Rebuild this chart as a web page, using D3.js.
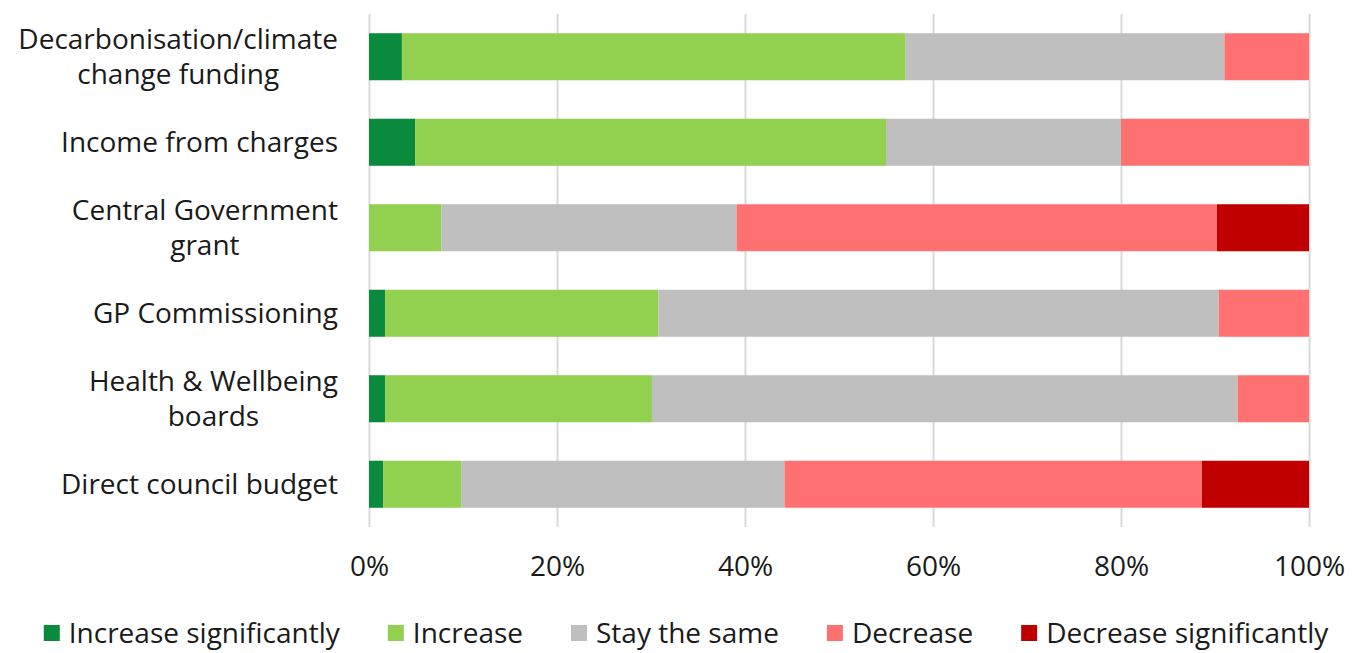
<!DOCTYPE html>
<html>
<head>
<meta charset="utf-8">
<script src="https://cdn.jsdelivr.net/npm/d3@7"></script>
<style>
  body { margin: 0; background: #fff; }
  text { font-family: "Open Sans", "Lato", sans-serif; fill: #1a1a1a; }
</style>
</head>
<body>
<div class="chart"></div>
<script>
/* categories, top to bottom */
const categories = [
  ["Decarbonisation/climate", "change funding"],
  ["Income from charges"],
  ["Central Government", "grant"],
  ["GP Commissioning"],
  ["Health & Wellbeing", "boards"],
  ["Direct council budget"]
];

/* series names and colours */
const seriesNames = ["Increase significantly", "Increase", "Stay the same", "Decrease", "Decrease significantly"];
const seriesColors = ["#0a8a3c", "#92d050", "#bfbfbf", "#ff7171", "#c00000"];

/* percentages per series, same order as categories */
const increaseSig = [3.5, 4.9, 0, 1.7, 1.7, 1.5];
const increase    = [53.6, 50.1, 7.7, 29.1, 28.4, 8.3];
const staySame    = [33.9, 25.0, 31.4, 59.6, 62.3, 34.4];
const decrease    = [9.0, 20.0, 51.1, 9.6, 7.6, 44.4];
const decreaseSig = [0, 0, 9.8, 0, 0, 11.4];

/* x axis tick values */
const tickValues = [0, 20, 40, 60, 80, 100];

/* build table for d3.stack */
const rows = categories.map((c, i) => ({
  key: c.join(" "),
  lines: c,
  "Increase significantly": increaseSig[i],
  "Increase": increase[i],
  "Stay the same": staySame[i],
  "Decrease": decrease[i],
  "Decrease significantly": decreaseSig[i]
}));

const W = 1362, H = 653;
const plot = {left: 369, right: 1309, top: 14, bottom: 527};
const fontSize = 28;

const svg = d3.select(".chart").append("svg")
  .attr("width", W)
  .attr("height", H);

const xScale = d3.scaleLinear()
  .domain([0, 100])
  .range([plot.left, plot.right]);

const yScale = d3.scaleBand()
  .domain(rows.map(d => d.key))
  .range([plot.top, plot.bottom])
  .paddingInner(0.45)
  .paddingOuter(0.225);

const color = d3.scaleOrdinal().domain(seriesNames).range(seriesColors);

/* gridlines */
const grid = svg.append("g")
  .attr("transform", `translate(0, ${plot.bottom})`)
  .call(d3.axisBottom(xScale).tickValues(tickValues).tickSize(-(plot.bottom - plot.top)).tickFormat(""));
grid.select(".domain").remove();
grid.selectAll("line").attr("stroke", "#d9d9d9").attr("stroke-width", 2);

/* stacked bars */
const stacked = d3.stack().keys(seriesNames)(rows);

svg.append("g")
  .selectAll("g")
  .data(stacked)
  .join("g")
  .attr("fill", d => color(d.key))
  .selectAll("rect")
  .data(d => d)
  .join("rect")
  .attr("x", d => xScale(d[0]))
  .attr("y", d => yScale(d.data.key))
  .attr("width", d => xScale(d[1]) - xScale(d[0]))
  .attr("height", yScale.bandwidth());

/* x axis labels */
const xAxis = svg.append("g")
  .attr("transform", `translate(0, ${plot.bottom})`)
  .call(d3.axisBottom(xScale).tickValues(tickValues).tickSize(0).tickPadding(29).tickFormat(d => d + "%"));
xAxis.select(".domain").remove();
xAxis.selectAll("text").attr("font-size", fontSize).attr("fill", "#1a1a1a");

/* y labels: block right aligned, lines centred to each other */
const labelRight = 338;
const lineGap = 35;
rows.forEach(r => {
  const g = svg.append("g");
  const cy = yScale(r.key) + yScale.bandwidth() / 2;
  const texts = r.lines.map((t, i) => g.append("text")
    .attr("font-size", fontSize)
    .attr("text-anchor", "middle")
    .attr("dy", "0.35em")
    .attr("y", cy + (i - (r.lines.length - 1) / 2) * lineGap)
    .text(t));
  const maxW = d3.max(texts, t => t.node().getComputedTextLength());
  texts.forEach(t => t.attr("x", labelRight - maxW / 2));
});

/* legend */
const legendY = 633;
const sq = 16, sqGap = 9, itemGap = 48;
const legend = svg.append("g");
const items = seriesNames.map(name => {
  const g = legend.append("g");
  g.append("rect").attr("width", sq).attr("height", sq).attr("y", legendY - sq / 2).attr("fill", color(name));
  const t = g.append("text").attr("font-size", fontSize).attr("x", sq + sqGap).attr("y", legendY).attr("dy", "0.35em").text(name);
  return {g, w: sq + sqGap + t.node().getComputedTextLength()};
});
const totalW = d3.sum(items, d => d.w) + itemGap * (items.length - 1);
let lx = 686 - totalW / 2;
items.forEach(it => {
  it.g.attr("transform", `translate(${lx}, 0)`);
  lx += it.w + itemGap;
});
</script>
</body>
</html>
